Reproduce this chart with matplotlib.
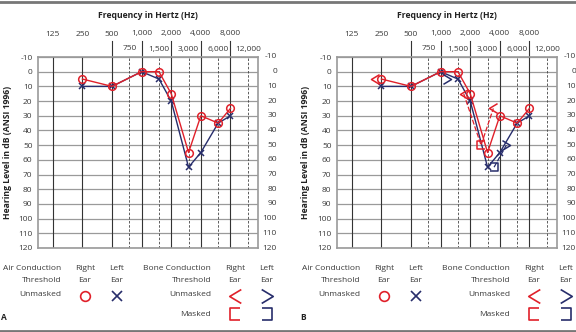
import numpy as np
import matplotlib.pyplot as plt
from matplotlib.path import Path

plt.rcParams["font.family"] = ["Open Sans", "DejaVu Sans"]
plt.rcParams["font.size"] = 6
plt.rcParams["axes.unicode_minus"] = False

# audiogram data (dB HL)
freqs = [250, 500, 1000, 1500, 2000, 3000, 4000, 6000, 8000]
right_air = [5, 10, 0, 0, 15, 55, 30, 35, 25]
left_air = [10, 10, 0, 5, 20, 65, 55, 35, 30]

# bone conduction, panel B only
rb_unmasked_f = [250, 2000, 4000]
rb_unmasked = [5, 15, 25]
rb_masked_f = [3000]
rb_masked = [50]
lb_unmasked_f = [1000, 4000]
lb_unmasked = [5, 50]
lb_masked_f = [3000]
lb_masked = [65]

octave_f = [125, 250, 500, 1000, 2000, 4000, 8000]
octave_lbl = ["125", "250", "500", "1,000", "2,000", "4,000", "8,000"]
mid_f = [750, 1500, 3000, 6000, 12000]
mid_lbl = ["750", "1,500", "3,000", "6,000", "12,000"]
db_ticks = list(range(-10, 121, 10))

RED = "#e0202a"
NAVY = "#272d6b"
GRID = "#9a9a9a"
TXT = "#3a3a3a"

W, H = 576, 332

# custom open markers
m_left = Path([(0.5, 0.6), (-0.5, 0.0), (0.5, -0.6)])
m_right = Path([(-0.5, 0.6), (0.5, 0.0), (-0.5, -0.6)])
m_lbrack = Path([(0.45, 0.5), (-0.45, 0.5), (-0.45, -0.5), (0.45, -0.5)])
m_rbrack = Path([(-0.45, 0.5), (0.45, 0.5), (0.45, -0.5), (-0.45, -0.5)])


def px_axes(x0, y_top, y_bot, width):
    return [x0 / W, 1 - y_bot / H, width / W, (y_bot - y_top) / H]


def audiogram(fig, x0, bone):
    y_top, y_bot, width = 57, 248, 220
    ax = fig.add_axes(px_axes(x0, y_top, y_bot, width))
    ax.set_xscale("log", base=2)
    ax.set_xlim(125 * 2 ** -0.5, 125 * 2 ** 6.93)
    ax.set_ylim(120, -10)
    ax.set_xticks([])
    ax.minorticks_off()
    ax.set_yticks(db_ticks)
    ax.tick_params(axis="y", length=0, pad=4, labelsize=6, labelcolor=TXT)
    for s in ax.spines.values():
        s.set_color(GRID)
        s.set_linewidth(1.2)
    for v in db_ticks:
        ax.axhline(v, color=GRID, lw=0.9, zorder=1)
    for f in octave_f:
        ax.axvline(f, color="#333333", lw=0.8, zorder=1)
    for f in mid_f:
        ax.axvline(f, color="#444444", lw=0.6, ls=(0, (3, 2)), zorder=1)

    tr = ax.get_xaxis_transform()
    ext = (y_bot - 41) / (y_bot - y_top)
    for f in octave_f[2:]:
        ax.plot([f, f], [1, ext], color="#333333", lw=0.8, transform=tr, clip_on=False)
    r1 = (y_bot - 34) / (y_bot - y_top)
    r2 = (y_bot - 49) / (y_bot - y_top)
    for f, t in zip(octave_f, octave_lbl):
        ax.text(f, r1, t, transform=tr, ha="center", va="center", color=TXT)
    for f, t in zip(mid_f, mid_lbl):
        ax.text(f, r2, t, transform=tr, ha="center", va="center", color=TXT)
    ax.text(0.5, (y_bot - 16) / (y_bot - y_top), "Frequency in Hertz (Hz)",
            transform=ax.transAxes, ha="center", va="center",
            fontweight="bold", fontsize=6.2, color="#222222")

    # right side labels
    rx = 1 + 19 / width
    for v in db_ticks:
        ax.text(rx, v, str(v), transform=ax.get_yaxis_transform(),
                ha="right", va="center", color=TXT, clip_on=False)

    ax.set_ylabel("Hearing Level in dB (ANSI 1996)", fontweight="bold",
                  fontsize=6.2, color="#222222")
    ax.yaxis.label.set_va("center")
    ax.yaxis.set_label_coords(-31 / width, 0.5)

    ax.plot(freqs, left_air, color=NAVY, lw=1.0, marker="x", ms=5,
            mew=1.1, zorder=4)
    ax.plot(freqs, right_air, color=RED, lw=1.0, marker="o", ms=5.5,
            mfc="none", mew=1.1, zorder=5)

    if bone:
        sl = 2 ** -0.22
        sr = 2 ** 0.22
        rb_f = [f * sl for f in rb_unmasked_f]
        rm_f = [f * sl for f in rb_masked_f]
        lb_f = [f * sr for f in lb_unmasked_f]
        lm_f = [f * sr for f in lb_masked_f]
        ax.plot([rb_f[1], rm_f[0], rb_f[2]], [rb_unmasked[1], rb_masked[0], rb_unmasked[2]],
                color=RED, lw=0.9, ls=(0, (4, 1.5)), zorder=4)
        ax.plot([lm_f[0], lb_f[1]], [lb_masked[0], lb_unmasked[1]],
                color=NAVY, lw=0.9, ls=(0, (4, 1.5)), zorder=4)
        ax.plot(rb_f, rb_unmasked, ls="none", marker=m_left, ms=7, mec=RED,
                mfc="none", mew=1.1, zorder=6)
        ax.plot(rm_f, rb_masked, ls="none", marker=m_lbrack, ms=6, mec=RED,
                mfc="none", mew=1.1, zorder=6)
        ax.plot(lb_f, lb_unmasked, ls="none", marker=m_right, ms=7, mec=NAVY,
                mfc="none", mew=1.1, zorder=6)
        ax.plot(lm_f, lb_masked, ls="none", marker=m_rbrack, ms=6, mec=NAVY,
                mfc="none", mew=1.1, zorder=6)
    return ax


def legend(ov, dx, tag):
    def t(x, y, s, ha="center"):
        ov.text(x + dx, y, s, ha=ha, va="center", color=TXT, fontsize=6)

    t(61, 268, "Air Conduction", "right")
    t(61, 280, "Threshold", "right")
    t(61, 295, "Unmasked", "right")
    t(211, 268, "Bone Conduction", "right")
    t(211, 280, "Threshold", "right")
    t(211, 295, "Unmasked", "right")
    t(211, 314, "Masked", "right")
    for x, s in [(85, "Right"), (117, "Left"), (235, "Right"), (267, "Left")]:
        t(x, 268, s)
        t(x, 280, "Ear")
    ov.plot(85 + dx, 296, marker="o", ms=7, mfc="none", mec=RED, mew=1.2, clip_on=False)
    ov.plot(117 + dx, 296, marker="x", ms=7, mec=NAVY, mew=1.2, clip_on=False)
    ov.plot(235 + dx, 296, marker=m_left, ms=10, mfc="none", mec=RED, mew=1.2, clip_on=False)
    ov.plot(267 + dx, 296, marker=m_right, ms=10, mfc="none", mec=NAVY, mew=1.2, clip_on=False)
    ov.plot(235 + dx, 314, marker=m_lbrack, ms=8, mfc="none", mec=RED, mew=1.2, clip_on=False)
    ov.plot(267 + dx, 314, marker=m_rbrack, ms=8, mfc="none", mec=NAVY, mew=1.2, clip_on=False)
    ov.text(dx + 1, 318, tag, ha="left", va="center", fontweight="bold",
            fontsize=6, color="#222222")


fig = plt.figure(figsize=(W / 100, H / 100), dpi=100)
ov = fig.add_axes([0, 0, 1, 1])
ov.set_xlim(0, W)
ov.set_ylim(H, 0)
ov.axis("off")
ov.plot([0, W], [1.5, 1.5], color="#777777", lw=2, clip_on=False)
ov.plot([0, W], [330.5, 330.5], color="#777777", lw=2, clip_on=False)

audiogram(fig, 38, bone=False)
audiogram(fig, 337, bone=True)
legend(ov, 0, "A")
legend(ov, 299, "B")

fig.savefig("out.png", dpi=100)
